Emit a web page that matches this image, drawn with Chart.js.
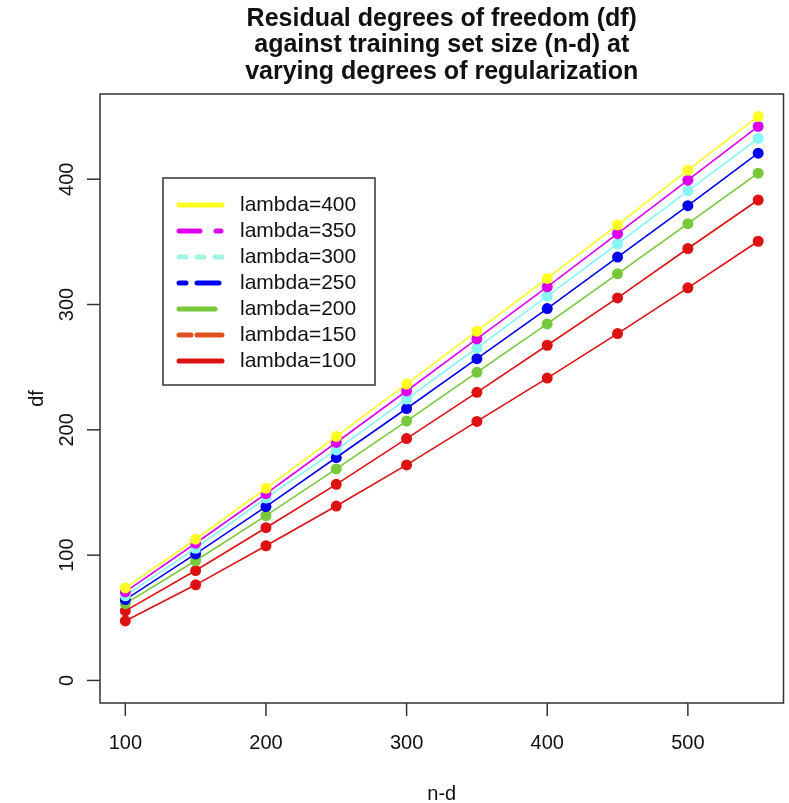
<!DOCTYPE html>
<html lang="en">
<head>
<meta charset="UTF-8">
<title>Residual degrees of freedom</title>
<style>
  body { margin: 0; padding: 0; background: #ffffff; }
  #dfChart { display: block; }
</style>
<script src="https://cdn.jsdelivr.net/npm/chart.js"></script>
</head>
<body>
<canvas id="dfChart" width="789" height="803"></canvas>
<script>
// training set size (n-d)
const nd = [100, 150, 200, 250, 300, 350, 400, 450, 500, 550];

// residual df per lambda
const df400 = [73.8, 112.7, 153.3, 194.7, 236.5, 278.7, 320.8, 363.5, 407.2, 450.1];
const df350 = [70.7, 109.5, 149.0, 189.9, 231.0, 272.5, 314.1, 356.5, 399.2, 442.1];
const df300 = [67.5, 105.5, 145.6, 184.0, 224.6, 265.3, 306.7, 348.5, 390.7, 432.5];
const df250 = [64.5, 101.0, 138.7, 177.9, 217.0, 256.8, 296.8, 337.9, 378.9, 420.8];
const df200 = [61.3, 95.5, 131.5, 168.8, 207.0, 245.9, 284.5, 324.5, 364.5, 404.8];
const df150 = [55.5, 87.7, 121.9, 156.5, 193.0, 229.9, 267.5, 305.3, 344.7, 383.4];
const df100 = [47.5, 76.3, 107.5, 139.2, 172.0, 206.7, 241.3, 276.8, 313.3, 350.5];

const labels = ['lambda=400', 'lambda=350', 'lambda=300', 'lambda=250', 'lambda=200', 'lambda=150', 'lambda=100'];
const xTicks = [100, 200, 300, 400, 500];
const yTicks = [0, 100, 200, 300, 400];

// colours
const lineColors = ['#ffff22', '#dd00ee', '#88f6f6', '#0000ee', '#77c83a', '#dd1111', '#dd1111'];
const legendColors = ['#ffff22', '#dd00ee', '#a2f5e0', '#0000ee', '#77c83a', '#e0501e', '#dd1111'];
const legendDash = [[], [21, 16, 5, 16], [7, 11], [7, 11, 22, 11], [36, 20], [12, 6, 25, 6], []];

const series = [df400, df350, df300, df250, df200, df150, df100];
const FONT = '"Liberation Sans", Arial, sans-serif';

// R-style frame, axes, title and legend
const rStyle = {
    id: 'rStyle',
    afterDraw(chart) {
        const ctx = chart.ctx;
        const a = chart.chartArea;
        const xs = chart.scales.x, ys = chart.scales.y;
        ctx.save();
        ctx.strokeStyle = '#333';
        ctx.lineWidth = 1.5;
        ctx.strokeRect(a.left, a.top, a.right - a.left, a.bottom - a.top);

        ctx.fillStyle = '#111';
        ctx.font = '20px ' + FONT;
        // x axis
        ctx.textAlign = 'center';
        ctx.textBaseline = 'middle';
        xTicks.forEach(v => {
            const px = xs.getPixelForValue(v);
            ctx.beginPath();
            ctx.moveTo(px, a.bottom);
            ctx.lineTo(px, a.bottom + 13);
            ctx.stroke();
            ctx.fillText(String(v), px, 743);
        });
        ctx.fillText('n-d', (a.left + a.right) / 2, 794);
        // y axis
        yTicks.forEach(v => {
            const py = ys.getPixelForValue(v);
            ctx.beginPath();
            ctx.moveTo(a.left, py);
            ctx.lineTo(a.left - 13, py);
            ctx.stroke();
            ctx.save();
            ctx.translate(67, py);
            ctx.rotate(-Math.PI / 2);
            ctx.fillText(String(v), 0, 0);
            ctx.restore();
        });
        ctx.save();
        ctx.translate(37, (a.top + a.bottom) / 2);
        ctx.rotate(-Math.PI / 2);
        ctx.fillText('df', 0, 0);
        ctx.restore();

        // title
        ctx.font = 'bold 25px ' + FONT;
        const title = ['Residual degrees of freedom (df)', 'against training set size (n-d) at', 'varying degrees of regularization'];
        title.forEach((t, i) => ctx.fillText(t, (a.left + a.right) / 2, 19 + i * 26.5));

        // legend box
        ctx.strokeStyle = '#333';
        ctx.lineWidth = 1.5;
        ctx.strokeRect(163, 178, 212, 207);
        ctx.font = '21px ' + FONT;
        ctx.textAlign = 'left';
        ctx.lineCap = 'round';
        labels.forEach((lab, i) => {
            const y = 205 + i * 26;
            ctx.strokeStyle = legendColors[i];
            ctx.lineWidth = 5;
            ctx.setLineDash(legendDash[i]);
            ctx.beginPath();
            ctx.moveTo(179, y);
            ctx.lineTo(222, y);
            ctx.stroke();
            ctx.setLineDash([]);
            ctx.fillText(lab, 240, y);
        });
        ctx.restore();
    }
};

new Chart(document.getElementById('dfChart'), {
    type: 'line',
    data: {
        labels: nd,
        datasets: series.map((vals, i) => ({
            label: labels[i],
            data: vals.map((v, j) => ({ x: nd[j], y: v })),
            borderColor: lineColors[i],
            backgroundColor: lineColors[i],
            borderWidth: 1.6,
            pointRadius: 5.5,
            pointBorderWidth: 0,
            pointHoverRadius: 5.5,
            tension: 0,
            fill: false
        }))
    },
    options: {
        responsive: false,
        animation: false,
        events: [],
        layout: { padding: { left: 100, top: 94, right: 4, bottom: 100 } },
        plugins: {
            legend: { display: false },
            title: { display: false },
            tooltip: { enabled: false }
        },
        scales: {
            x: { type: 'linear', min: 82, max: 568, display: false },
            y: { type: 'linear', min: -18, max: 468, display: false }
        }
    },
    plugins: [rStyle]
});
</script>
</body>
</html>
